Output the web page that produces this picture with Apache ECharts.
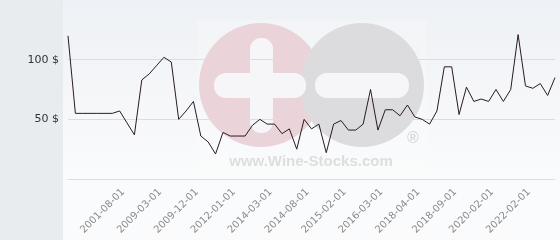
<!DOCTYPE html>
<html>
<head>
<meta charset="utf-8">
<script src="https://cdn.jsdelivr.net/npm/echarts@6/dist/echarts.min.js"></script>
<style>html,body{margin:0;padding:0;background:#fff}#c{width:560px;height:240px}</style>
</head>
<body>
<div id="c"></div>
<script>
const categories = [
  '1996-09-01','1997-11-01','1998-06-01','1999-02-01','1999-10-01','2000-04-01','2000-12-01','2001-08-01',
  '2003-05-01','2005-03-01','2006-11-01','2007-10-01','2009-03-01','2009-05-01','2009-07-01','2009-09-01',
  '2009-10-01','2009-12-01','2010-06-01','2010-11-01','2011-04-01','2011-09-01','2012-01-01','2012-07-01',
  '2013-01-01','2013-06-01','2013-11-01','2014-03-01','2014-04-01','2014-05-01','2014-06-01','2014-07-01',
  '2014-08-01','2014-09-01','2014-10-01','2014-11-01','2014-12-01','2015-02-01','2015-05-01','2015-07-01',
  '2015-10-01','2015-12-01','2016-03-01','2016-09-01','2017-02-01','2017-06-01','2017-10-01','2018-04-01',
  '2018-05-01','2018-06-01','2018-07-01','2018-08-01','2018-09-01','2018-12-01','2019-03-01','2019-06-01',
  '2019-09-01','2020-02-01','2020-06-01','2020-10-01','2021-03-01','2021-07-01','2022-02-01','2022-06-01',
  '2022-11-01','2023-04-01','2023-09-01'
];
const prices = [
  120, 55, 55, 55, 55, 55, 55, 57,
  47, 37, 83, 88, 95, 102, 98, 50,
  57, 65, 36, 31, 21, 39, 36, 36,
  36, 45, 50, 46, 46, 38, 42, 25,
  50, 42, 46, 22, 46, 49, 41, 41,
  46, 75, 41, 58, 58, 53, 62, 52,
  50, 46, 57, 94, 94, 54, 77, 65,
  67, 65, 75, 65, 75, 121, 78, 76,
  80, 70, 85
];
const yTicks = [50, 100];
const watermarkText = 'www.Wine-Stocks.com';

const chart = echarts.init(document.getElementById('c'), null, {renderer: 'canvas'});
chart.setOption({
  animation: false,
  backgroundColor: '#ffffff',
  grid: {left: 68, right: 5, top: 0, bottom: 61, containLabel: false},
  graphic: [
    {type: 'rect', z: -10, shape: {x: 0, y: 0, width: 63, height: 240}, style: {fill: '#e8ecef'}},
    {type: 'rect', z: -10, shape: {x: 63, y: 0, width: 497, height: 240},
      style: {fill: new echarts.graphic.LinearGradient(0, 0, 0, 1, [
        {offset: 0, color: '#eef1f5'}, {offset: 0.75, color: '#fafbfc'}, {offset: 1, color: '#fbfbfc'}])}},
    {type: 'rect', z: -9, shape: {x: 197, y: 20, width: 230, height: 154}, style: {fill: 'rgba(255,255,255,0.2)'}},
    {type: 'group', z: -8, children: [
      {type: 'circle', shape: {cx: 261, cy: 85, r: 62}, style: {fill: '#ebd3da'}},
      {type: 'circle', shape: {cx: 362, cy: 85, r: 62}, style: {fill: '#dcdcde'}},
      {type: 'rect', shape: {x: 250, y: 38, width: 23, height: 95, r: 11}, style: {fill: '#f6f6f8'}},
      {type: 'rect', shape: {x: 214, y: 73, width: 92, height: 25, r: 12}, style: {fill: '#f6f6f8'}},
      {type: 'rect', shape: {x: 315, y: 73, width: 94, height: 25, r: 12}, style: {fill: '#f6f6f8'}},
      {type: 'text', x: 413, y: 139, style: {text: '®', fill: '#d8d8da', font: 'bold 16px "Liberation Sans", Arial', align: 'center', verticalAlign: 'middle'}},
      {type: 'text', x: 311, y: 162, style: {text: watermarkText, fill: '#dedee0', font: 'bold 15px "Liberation Sans", Arial', align: 'center', verticalAlign: 'middle'}}
    ]}
  ],
  xAxis: {
    type: 'category',
    data: categories,
    boundaryGap: false,
    axisLine: {show: true, lineStyle: {color: '#dddddd', width: 1}},
    axisTick: {show: false},
    axisLabel: {
      rotate: 45,
      margin: 8,
      verticalAlign: 'top',
      interval: function (idx) { return idx >= 7 && idx % 5 === 2; },
      color: '#8a8a8a',
      fontFamily: 'DejaVu Sans',
      fontSize: 10
    },
    splitLine: {show: false}
  },
  yAxis: {
    type: 'value',
    min: 0,
    max: 150,
    interval: 50,
    axisLine: {show: false},
    axisTick: {show: false},
    axisLabel: {
      margin: 9,
      color: '#333333',
      fontFamily: 'DejaVu Sans',
      fontSize: 11,
      formatter: function (v) { return yTicks.indexOf(v) >= 0 ? v + ' $' : ''; }
    },
    splitLine: {show: true, showMaxLine: false, lineStyle: {color: '#dddddd', width: 1}}
  },
  series: [{
    type: 'line',
    data: prices,
    showSymbol: false,
    symbol: 'none',
    lineStyle: {color: '#2b1a24', width: 1},
    z: 5
  }]
});
</script>
</body>
</html>
